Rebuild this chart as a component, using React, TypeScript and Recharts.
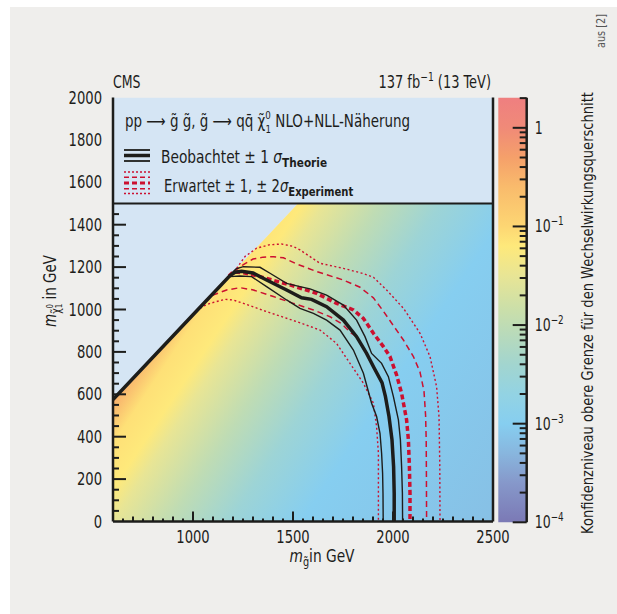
import { ComposedChart, Area, Line, XAxis, YAxis, ReferenceLine, ReferenceArea } from 'recharts';

const INK = '#1d1d1b';
const RED = '#cc1030';
const SKY = '#d5e5f4';
const FONT = "'Liberation Sans Narrow', 'DejaVu Sans Condensed', 'Liberation Sans', sans-serif";
const SQ = 0.86; // horizontal squeeze to mimic the narrow original face

// axis ticks
const GLUINO_LABELS = [1000, 1500, 2000, 2500];
const LSP_LABELS = [0, 200, 400, 600, 800, 1000, 1200, 1400, 1600, 1800, 2000];
const CBAR_DECADES = [1e-4, 1e-3, 1e-2, 1e-1, 1];

// edge of the coloured region (m_LSP = m_gluino - 25, capped by the legend box)
const EDGE_X = [600, 1525, 2500];
const EDGE_Y = [575, 1500, 1500];

// colour scale of the z axis: log10(limit) -> colour
const SCALE_LOG = [0.31, 0, -0.3, -0.6, -1.0, -1.2, -1.5, -1.85, -2.1, -2.4, -2.7, -3.0, -3.3, -3.6, -4.0];
const SCALE_COLOR = ['#ef7f80', '#f08a78', '#f5a06a', '#f9bb6c', '#fdd673', '#fee97b', '#e8e595', '#cadfaa', '#b8dabb', '#a2d5cf', '#93d3e3', '#86cef0', '#88b6de', '#8698ca', '#7b79b5'];

// limit map, read across the plot (position along the gradient -> log10 limit)
const HEAT_T = [0, 0.015, 0.077, 0.141, 0.187, 0.308, 0.436, 0.59, 1];
const HEAT_LOG = [-0.3, -0.45, -1.1, -1.2, -1.5, -2.0, -2.5, -3.0, -3.18];

// contours [m_gluino, m_LSP]
const OBS = [[600, 575], [1000, 975], [1185, 1160], [1210, 1176], [1243, 1180], [1300, 1172], [1368, 1139], [1468, 1092], [1543, 1055], [1593, 1048], [1668, 1013], [1752, 950], [1818, 872], [1868, 793], [1905, 725], [1945, 655], [1962, 590], [1980, 495], [1995, 385], [2003, 259], [2006, 133], [2006, 0]];
const OBS_UP = [[1195, 1172], [1215, 1192], [1252, 1202], [1335, 1199], [1385, 1171], [1468, 1123], [1535, 1108], [1585, 1097], [1668, 1068], [1752, 1021], [1818, 950], [1860, 872], [1893, 793], [1943, 746], [1977, 683], [2002, 589], [2027, 479], [2037, 385], [2043, 259], [2047, 133], [2048, 0]];
const OBS_DN = [[1170, 1145], [1185, 1155], [1235, 1158], [1293, 1155], [1368, 1108], [1468, 1045], [1535, 1005], [1602, 982], [1668, 950], [1735, 903], [1802, 809], [1852, 699], [1893, 558], [1918, 495], [1935, 416], [1943, 322], [1948, 227], [1950, 133], [1951, 0]];
const EXP = [[1180, 1158], [1202, 1178], [1260, 1172], [1335, 1155], [1485, 1116], [1618, 1076], [1718, 1029], [1802, 998], [1852, 958], [1902, 888], [1952, 825], [1985, 778], [2018, 691], [2043, 605], [2068, 479], [2077, 385], [2082, 259], [2085, 133], [2085, 0]];
const EXP_UP1 = [[1205, 1180], [1252, 1212], [1300, 1238], [1350, 1247], [1402, 1249], [1452, 1244], [1518, 1215], [1618, 1179], [1752, 1139], [1835, 1105], [1902, 1055], [1952, 992], [2002, 924], [2052, 856], [2102, 778], [2135, 705], [2155, 615], [2163, 500], [2166, 385], [2167, 227], [2168, 0]];
const EXP_DN1 = [[1060, 1035], [1100, 1068], [1168, 1092], [1235, 1103], [1302, 1092], [1402, 1061], [1502, 1029], [1602, 998], [1685, 966], [1740, 935], [1790, 890], [1818, 872], [1868, 793], [1905, 725], [1945, 655], [1962, 590], [1980, 495], [1995, 385], [2003, 259], [2006, 133], [2006, 0]];
const EXP_UP2 = [[1218, 1194], [1260, 1250], [1318, 1289], [1380, 1305], [1443, 1309], [1500, 1298], [1535, 1281], [1635, 1218], [1752, 1194], [1850, 1170], [1902, 1152], [1968, 1092], [2052, 1006], [2135, 888], [2185, 778], [2218, 636], [2230, 495], [2234, 259], [2235, 0]];
const EXP_DN2 = [[1018, 993], [1050, 1015], [1085, 1029], [1160, 1048], [1200, 1045], [1252, 1029], [1368, 990], [1518, 943], [1635, 903], [1718, 840], [1785, 746], [1852, 652], [1902, 558], [1918, 447], [1927, 322], [1927, 0]];

const pts = (arr: number[][]) => arr.map(([x, y]) => ({ x, y }));
const EDGE = EDGE_X.map((x, i) => ({ x, edge: EDGE_Y[i] }));

const xTicks: number[] = [];
for (let v = 600; v <= 2500; v += 50) xTicks.push(v);
const yTicks: number[] = [];
for (let v = 0; v <= 2000; v += 50) yTicks.push(v);
const cTicks: number[] = [];
CBAR_DECADES.forEach((d) => {
  for (let k = 1; k <= 9; k++) if (d * k <= 2.02) cTicks.push(d * k);
});
const CBAR_TOP = 2.02;

function hex(c: string) {
  return [1, 3, 5].map((i) => parseInt(c.slice(i, i + 2), 16));
}
function scaleColor(v: number) {
  let i = 0;
  while (i < SCALE_LOG.length - 2 && v < SCALE_LOG[i + 1]) i++;
  const a = hex(SCALE_COLOR[i]);
  const b = hex(SCALE_COLOR[i + 1]);
  const f = Math.min(1, Math.max(0, (SCALE_LOG[i] - v) / (SCALE_LOG[i] - SCALE_LOG[i + 1])));
  return `rgb(${a.map((c, k) => Math.round(c + (b[k] - c) * f)).join(',')})`;
}

// squeezed text: x,y is the anchor point, rot optional rotation in degrees
function SText({ x, y, rot = 0, sx = SQ, children, ...rest }: any) {
  return (
    <text transform={`translate(${x} ${y}) rotate(${rot}) scale(${sx} 1)`} x={0} y={0}
      fontFamily={FONT} fill={INK} style={{ fontStretch: 'condensed' }} {...rest}>
      {children}
    </text>
  );
}

function LeftTick(p: any) {
  const v = p.payload.value;
  const ax = p.x + 11;
  const major = v % 200 === 0;
  return (
    <g>
      {v > 0 && v < 1500 && <line x1={ax} x2={ax + (major ? 13 : 6)} y1={p.y} y2={p.y} stroke={INK} strokeWidth={2} />}
      {LSP_LABELS.includes(v) && <SText x={p.x} y={p.y + 6} textAnchor="end" fontSize={17}>{v}</SText>}
    </g>
  );
}

function RightTick(p: any) {
  const v = p.payload.value;
  const major = v % 200 === 0;
  if (v <= 0 || v >= 1500) return <g />;
  return <line x1={p.x} x2={p.x - (major ? 13 : 6)} y1={p.y} y2={p.y} stroke={INK} strokeWidth={2} />;
}

function BottomTick(p: any) {
  const v = p.payload.value;
  const ay = p.y - 8;
  const len = v % 500 === 0 ? 10 : v % 100 === 0 ? 5 : 3;
  return (
    <g>
      {v > 600 && v < 2500 && <line x1={p.x} x2={p.x} y1={ay} y2={ay - len} stroke={INK} strokeWidth={2} />}
      {GLUINO_LABELS.includes(v) && <SText x={p.x} y={ay + 21.5} textAnchor="middle" fontSize={17}>{v}</SText>}
    </g>
  );
}

function CbarTick(p: any) {
  const v = p.payload.value;
  const e = Math.log10(v);
  const major = Math.abs(e - Math.round(e)) < 1e-6;
  const n = Math.round(e);
  return (
    <g>
      <line x1={p.x} x2={p.x - (major ? 14 : 7)} y1={p.y} y2={p.y} stroke={INK} strokeWidth={2} />
      {major && (
        <SText x={p.x + 8} y={p.y + 6} fontSize={17} sx={0.82}>
          {n === 0 ? '1' : '10'}
          {n !== 0 && <tspan dy={-7} fontSize={12}>{'\u2212' + Math.abs(n)}</tspan>}
        </SText>
      )}
    </g>
  );
}

const CONTOURS = [
  { key: 'exp-2', data: EXP_DN2, stroke: RED, width: 1.4, dash: '2 2.5' },
  { key: 'exp+2', data: EXP_UP2, stroke: RED, width: 1.4, dash: '2 2.5' },
  { key: 'exp-1', data: EXP_DN1, stroke: RED, width: 1.5, dash: '6 4' },
  { key: 'exp+1', data: EXP_UP1, stroke: RED, width: 1.5, dash: '6 4' },
  { key: 'exp', data: EXP, stroke: RED, width: 3.5, dash: '5 3' },
  { key: 'obs-1', data: OBS_DN, stroke: INK, width: 1.4, dash: undefined },
  { key: 'obs+1', data: OBS_UP, stroke: INK, width: 1.4, dash: undefined },
  { key: 'obs', data: OBS, stroke: INK, width: 3.5, dash: undefined },
];

export default function App() {
  const axisLine = { stroke: INK, strokeWidth: 2.5 };
  const cbarTopLog = Math.log10(CBAR_TOP);
  return (
    <div style={{ position: 'absolute', left: 0, top: 0, width: 617, height: 614, background: '#fff', overflow: 'hidden' }}>
      <div style={{ position: 'absolute', left: 10, top: 7, right: 0, bottom: 0, background: '#efeeec' }} />
      <svg width={0} height={0} style={{ position: 'absolute' }}>
        <defs>
          <linearGradient id="heat" x1={0.325} y1={0} x2={1.267} y2={0.524}>
            {HEAT_T.map((t, i) => (
              <stop key={i} offset={t} stopColor={scaleColor(HEAT_LOG[i])} />
            ))}
          </linearGradient>
          <linearGradient id="cbar" x1={0} y1={0} x2={0} y2={1}>
            {SCALE_LOG.map((v, i) => (
              <stop key={i} offset={Math.max(0, (cbarTopLog - v) / (cbarTopLog + 4))} stopColor={SCALE_COLOR[i]} />
            ))}
          </linearGradient>
        </defs>
      </svg>

      <div style={{ position: 'absolute', left: 0, top: 0 }}>
        <ComposedChart width={617} height={614} data={EDGE} margin={{ top: 97.5, right: 114, bottom: 52.5, left: 53 }}>
          <XAxis dataKey="x" type="number" domain={[600, 2500]} ticks={xTicks} interval={0} allowDataOverflow
            height={40} tickSize={0} tickMargin={8} tickLine={false} axisLine={axisLine} tick={(p: any) => <BottomTick {...p} />} />
          <XAxis xAxisId="top" orientation="top" dataKey="x" type="number" domain={[600, 2500]} height={0}
            tick={false} tickLine={false} axisLine={axisLine} />
          <YAxis type="number" domain={[0, 2000]} ticks={yTicks} interval={0} allowDataOverflow width={60}
            tickSize={0} tickMargin={11} tickLine={false} axisLine={axisLine} tick={(p: any) => <LeftTick {...p} />} />
          <YAxis yAxisId="r" orientation="right" type="number" domain={[0, 2000]} ticks={yTicks} interval={0} width={10}
            tickSize={0} tickMargin={0} tickLine={false} axisLine={axisLine} tick={(p: any) => <RightTick {...p} />} />
          <Area dataKey={(d: any) => [d.edge, 2000]} type="linear" fill={SKY} fillOpacity={1} stroke="none" dot={false} activeDot={false} isAnimationActive={false} />
          <Area dataKey={(d: any) => [0, d.edge]} type="linear" fill="url(#heat)" fillOpacity={1} stroke="none" dot={false} activeDot={false} isAnimationActive={false} />
          <ReferenceLine y={1500} stroke={INK} strokeWidth={2.2} />
          {CONTOURS.map((c) => (
            <Line key={c.key} data={pts(c.data)} dataKey="y" type="linear" stroke={c.stroke} strokeWidth={c.width}
              strokeDasharray={c.dash} dot={false} activeDot={false} isAnimationActive={false} />
          ))}
        </ComposedChart>
      </div>

      <div style={{ position: 'absolute', left: 0, top: 0 }}>
        <ComposedChart width={617} height={614} data={[{ x: 0 }, { x: 1 }]} margin={{ top: 97.7, right: 30.3, bottom: 91.7, left: 498.3 }}>
          <XAxis dataKey="x" type="number" domain={[0, 1]} hide />
          <YAxis orientation="right" type="number" scale="log" domain={[1e-4, CBAR_TOP]} ticks={cTicks} interval={0} allowDataOverflow
            width={60} tickSize={0} tickMargin={0} tickLine={false} axisLine={axisLine} tick={(p: any) => <CbarTick {...p} />} />
          <ReferenceArea x1={0} x2={1} y1={1e-4} y2={CBAR_TOP} fill="url(#cbar)" fillOpacity={1} stroke="none" ifOverflow="visible" />
        </ComposedChart>
      </div>

      <svg width={617} height={614} style={{ position: 'absolute', left: 0, top: 0, pointerEvents: 'none' }}>
        <SText x={113} y={88} fontSize={17} sx={0.82}>CMS</SText>
        <SText x={491} y={88} fontSize={17} textAnchor="end" sx={0.85}>
          137 fb<tspan dy={-7} fontSize={12}>{'\u22121'}</tspan><tspan dy={7}> (13 TeV)</tspan>
        </SText>

        <SText x={125} y={127} fontSize={17} sx={0.88}>
          {'pp \u27f6 g\u0303 g\u0303, g\u0303 \u27f6 qq\u0304 \u03c7\u0303'}
          <tspan dy={-8} fontSize={11}>0</tspan>
          <tspan dx={-6} dy={14} fontSize={11}>1</tspan>
          <tspan dy={-6}> NLO+NLL-Näherung</tspan>
        </SText>

        <line x1={124} x2={150} y1={150} y2={150} stroke={INK} strokeWidth={1.8} />
        <line x1={124} x2={150} y1={155.5} y2={155.5} stroke={INK} strokeWidth={3.5} />
        <line x1={124} x2={150} y1={161} y2={161} stroke={INK} strokeWidth={1.8} />
        <SText x={161} y={163} fontSize={17} sx={0.9}>
          {'Beobachtet \u00b1 1 '}
          <tspan fontStyle="italic">σ</tspan>
          <tspan dy={4} fontSize={13} fontWeight="bold">Theorie</tspan>
        </SText>

        <line x1={124} x2={150} y1={172} y2={172} stroke={RED} strokeWidth={1.3} strokeDasharray="2 2" />
        <line x1={124} x2={150} y1={177.3} y2={177.3} stroke={RED} strokeWidth={1.5} strokeDasharray="5 3" />
        <line x1={124} x2={150} y1={183} y2={183} stroke={RED} strokeWidth={3.2} strokeDasharray="5 3" />
        <line x1={124} x2={150} y1={188.7} y2={188.7} stroke={RED} strokeWidth={1.5} strokeDasharray="5 3" />
        <line x1={124} x2={150} y1={193.5} y2={193.5} stroke={RED} strokeWidth={1.3} strokeDasharray="2 2" />
        <SText x={164} y={192} fontSize={17} sx={0.86}>
          {'Erwartet \u00b1 1, \u00b1 2'}
          <tspan fontStyle="italic">σ</tspan>
          <tspan dy={4} fontSize={13} fontWeight="bold">Experiment</tspan>
        </SText>

        <SText x={56} y={291} rot={-90} textAnchor="middle" fontSize={17} sx={0.88}>
          <tspan fontStyle="italic">m</tspan>
          <tspan dy={4} fontSize={12}>{'\u03c7\u0303'}</tspan>
          <tspan dy={-7} fontSize={9}>0</tspan>
          <tspan dx={-5} dy={9} fontSize={9}>1</tspan>
          <tspan dy={-6}> in GeV</tspan>
        </SText>

        <SText x={322} y={562} textAnchor="middle" fontSize={17} sx={0.9}>
          <tspan fontStyle="italic">m</tspan>
          <tspan dy={4} fontSize={12}>{'g\u0303'}</tspan>
          <tspan dy={-4}>in GeV</tspan>
        </SText>

        <SText x={593} y={313} rot={-90} textAnchor="middle" fontSize={16.5} sx={0.88}>
          Konfidenzniveau obere Grenze für den Wechselwirkungsquerschnitt
        </SText>
        <SText x={605} y={31} rot={-90} textAnchor="middle" fontSize={12} fill="#555" sx={0.9}>aus [2]</SText>
      </svg>
    </div>
  );
}
